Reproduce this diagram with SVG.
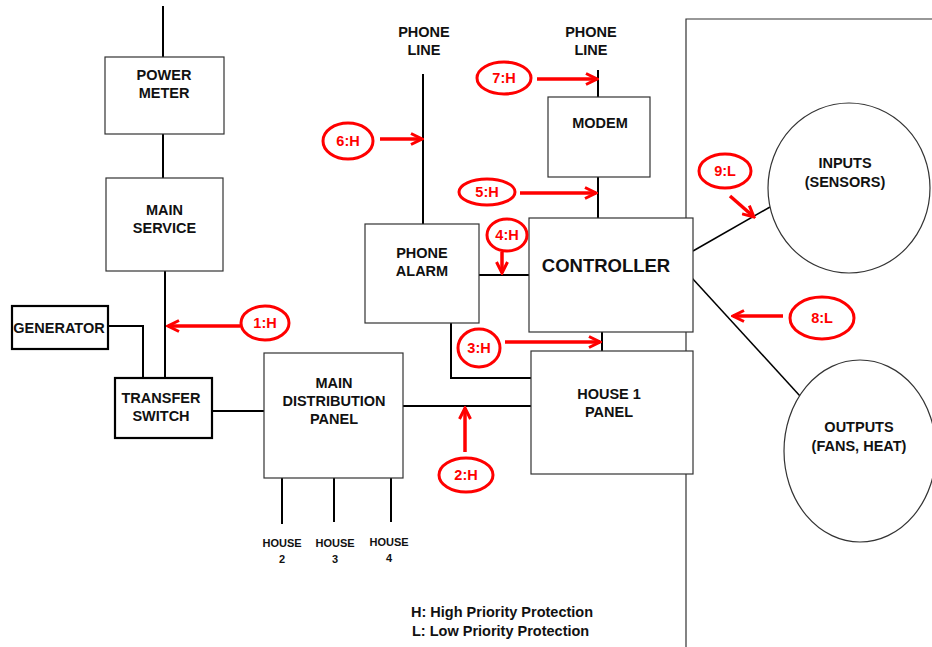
<svg xmlns="http://www.w3.org/2000/svg" width="932" height="647" viewBox="0 0 932 647">
<defs>
<style>
.box{fill:#fff;stroke:#333;stroke-width:1.2}
.tbox{fill:#fff;stroke:#000;stroke-width:2.2}
.w{fill:none;stroke:#000;stroke-width:2}
.thin{fill:none;stroke:#000;stroke-width:1.5}
.t{font-family:"Liberation Sans",Arial,sans-serif;font-weight:bold;font-size:14.5px;fill:#111;text-anchor:middle}
.s{font-size:11px}
.big{font-size:18.5px;font-weight:bold}
.lg{font-family:"Liberation Sans",Arial,sans-serif;font-weight:bold;font-size:14.5px;fill:#111}
.ov{fill:#fff;stroke:#f00;stroke-width:3}
.rt{font-family:"Liberation Sans",Arial,sans-serif;font-size:14.5px;font-weight:bold;fill:#f00;text-anchor:middle}
.ar{fill:none;stroke:#f00;stroke-width:3.5;marker-end:url(#ah)}
.circ{fill:#fff;stroke:#333;stroke-width:1.2}
</style>
<marker id="ah" viewBox="0 0 14 14" refX="12" refY="7" markerWidth="14" markerHeight="14" orient="auto" markerUnits="userSpaceOnUse">
<path d="M1,1.5 L12,7 L1,12.5" fill="none" stroke="#f00" stroke-width="3"/>
</marker>
</defs>
<rect width="932" height="647" fill="#fff"/>
<path d="M686,647 V19 H932" fill="none" stroke="#333" stroke-width="1.2"/>
<g id="connectors">
<path class="w" d="M163,6 V57"/>
<path class="w" d="M163,134 V178"/>
<path class="w" d="M165,271 V378"/>
<path class="w" d="M108,326 H143 V378"/>
<path class="w" d="M212,411 H264"/>
<path class="w" d="M282,478 V524 M334,478 V522 M391,478 V522"/>
<path class="w" d="M403,406 H531"/>
<path class="w" d="M423,74 V224"/>
<path class="w" d="M598,70 V97"/>
<path class="w" d="M598,177 V218"/>
<path class="w" d="M479,275 H529"/>
<path class="w" d="M451,323 V378 H531"/>
<path class="w" d="M602,332 V351"/>
<path class="thin" d="M693,251 L770,207"/>
<path class="thin" d="M692,278 L800,396"/>
</g>
<g id="power-meter"><rect class="box" x="105" y="57" width="119" height="77"/><text class="t" x="164" y="80">POWER</text><text class="t" x="164" y="98">METER</text></g>
<g id="main-service"><rect class="box" x="106" y="178" width="117" height="93"/><text class="t" x="164.5" y="215">MAIN</text><text class="t" x="164.5" y="233">SERVICE</text></g>
<g id="generator"><rect class="tbox" x="12" y="306" width="96" height="43"/><text class="t" x="59" y="333">GENERATOR</text></g>
<g id="transfer-switch"><rect class="tbox" x="115" y="378" width="97" height="60"/><text class="t" x="161" y="403">TRANSFER</text><text class="t" x="161" y="421">SWITCH</text></g>
<g id="main-distribution-panel"><rect class="box" x="264" y="353" width="139" height="125"/><text class="t" x="334" y="388">MAIN</text><text class="t" x="334" y="406">DISTRIBUTION</text><text class="t" x="334" y="424">PANEL</text></g>
<g id="house-2"><text class="t s" x="282" y="547">HOUSE</text><text class="t s" x="282" y="563">2</text></g>
<g id="house-3"><text class="t s" x="335" y="547">HOUSE</text><text class="t s" x="335" y="563">3</text></g>
<g id="house-4"><text class="t s" x="389" y="546">HOUSE</text><text class="t s" x="389" y="562">4</text></g>
<g id="phone-line-1"><text class="t" x="424" y="37">PHONE</text><text class="t" x="424" y="55">LINE</text></g>
<g id="phone-line-2"><text class="t" x="591" y="37">PHONE</text><text class="t" x="591" y="55">LINE</text></g>
<g id="modem"><rect class="box" x="548" y="97" width="102" height="80"/><text class="t" x="600" y="128">MODEM</text></g>
<g id="phone-alarm"><rect class="box" x="365" y="224" width="114" height="99"/><text class="t" x="422" y="258">PHONE</text><text class="t" x="422" y="276">ALARM</text></g>
<g id="controller"><rect class="box" x="529" y="218" width="164" height="114"/><text class="t big" x="606" y="272">CONTROLLER</text></g>
<g id="house-1-panel"><rect class="box" x="531" y="351" width="162" height="123"/><text class="t" x="609" y="399">HOUSE 1</text><text class="t" x="609" y="417">PANEL</text></g>
<g id="inputs"><ellipse class="circ" cx="849" cy="188" rx="81" ry="85"/><text class="t" x="845" y="168">INPUTS</text><text class="t" x="845" y="187">(SENSORS)</text></g>
<g id="outputs"><ellipse class="circ" cx="860" cy="451" rx="76" ry="91"/><text class="t" x="859" y="432">OUTPUTS</text><text class="t" x="859" y="451">(FANS, HEAT)</text></g>
<g id="legend"><text class="lg" x="411" y="617">H: High Priority Protection</text><text class="lg" x="412" y="636">L: Low Priority Protection</text></g>
<g id="protection-labels">
<path class="ar" d="M240,326 H168"/>
<ellipse class="ov" cx="265" cy="323" rx="24" ry="17"/><text class="rt" x="265" y="328">1:H</text>
<path class="ar" d="M465,452 V408"/>
<ellipse class="ov" cx="466" cy="475" rx="27" ry="17"/><text class="rt" x="466" y="480">2:H</text>
<path class="ar" d="M505,342 H600"/>
<ellipse class="ov" cx="479" cy="348" rx="21" ry="19"/><text class="rt" x="479" y="353">3:H</text>
<path class="ar" d="M502,252 V273"/>
<ellipse class="ov" cx="507" cy="235" rx="20" ry="16"/><text class="rt" x="507" y="240">4:H</text>
<path class="ar" d="M520,193 H596"/>
<ellipse class="ov" cx="487" cy="192" rx="28" ry="13"/><text class="rt" x="487" y="197">5:H</text>
<path class="ar" d="M380,139 H422"/>
<ellipse class="ov" cx="348" cy="141" rx="25" ry="18"/><text class="rt" x="348" y="146">6:H</text>
<path class="ar" d="M537,79 H597"/>
<ellipse class="ov" cx="504" cy="78" rx="27" ry="16"/><text class="rt" x="504" y="83">7:H</text>
<path class="ar" d="M783,316 H733"/>
<ellipse class="ov" cx="822" cy="318" rx="32" ry="21"/><text class="rt" x="822" y="323">8:L</text>
<path class="ar" d="M730,196 L754,217"/>
<ellipse class="ov" cx="725" cy="171" rx="26" ry="17"/><text class="rt" x="725" y="176">9:L</text>
</g>
</svg>
